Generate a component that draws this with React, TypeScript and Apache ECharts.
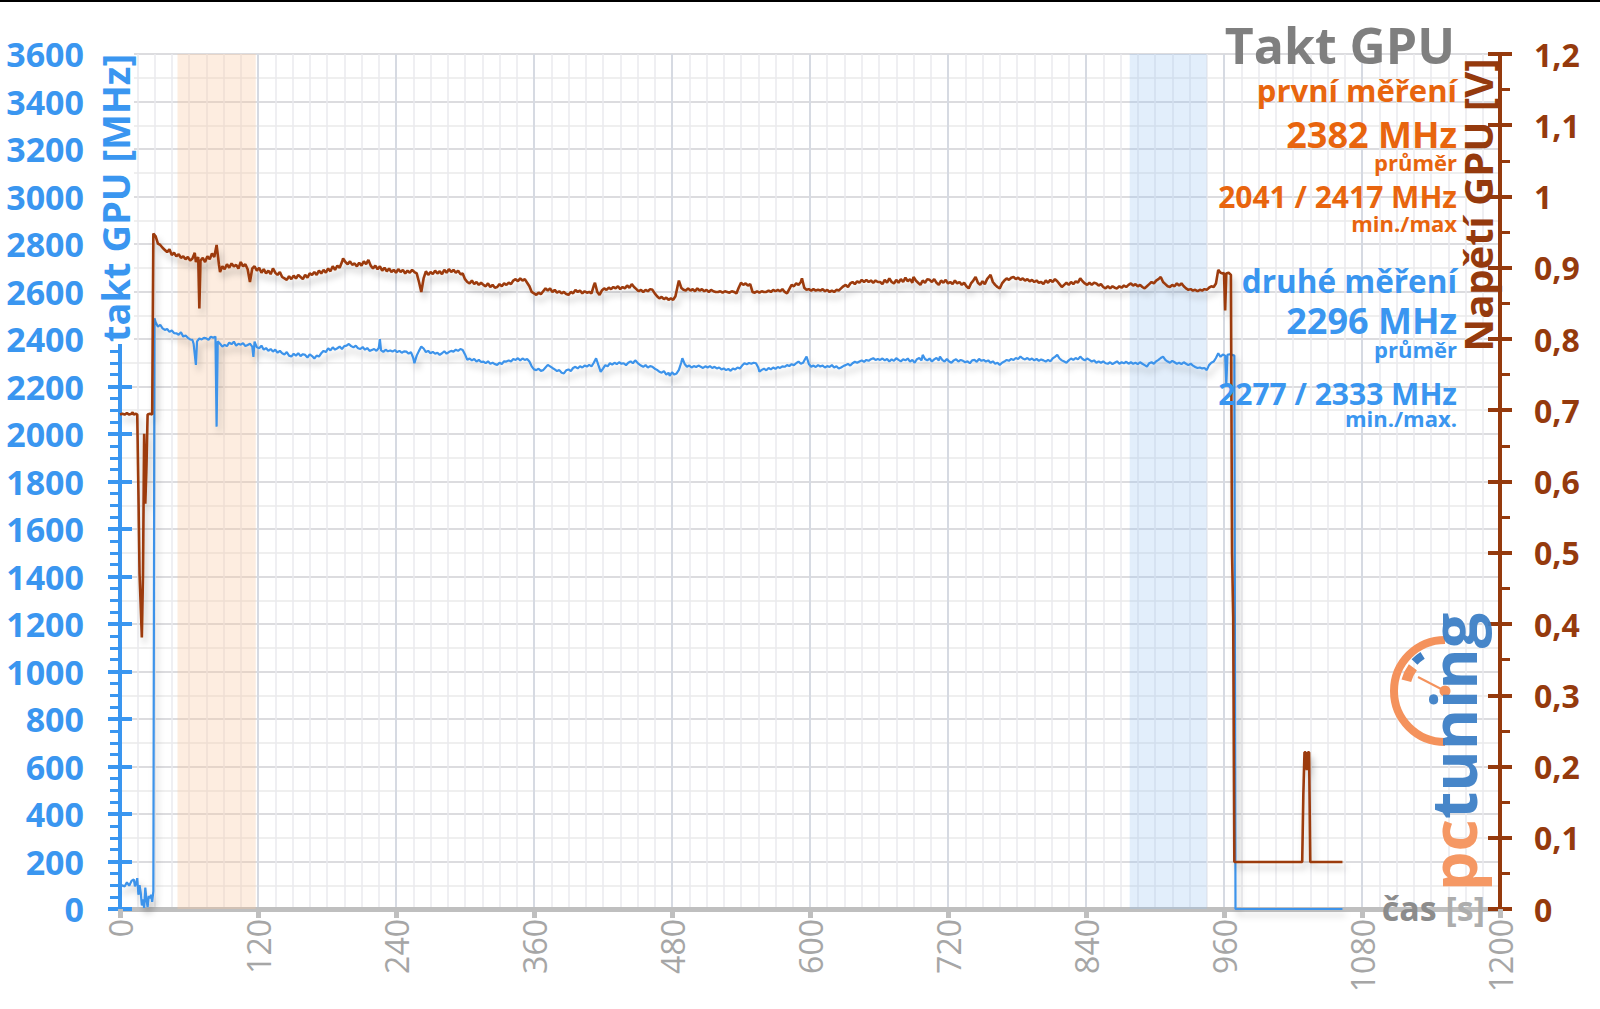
import React, { useEffect, useRef } from 'react';
import * as echarts from 'echarts';

// ---------- data ----------
// GPU clock of the second run [time s, MHz]
const clockMHz: [number, number][] = [
  [0, 88], [2, 100], [4, 95], [6, 112], [8, 98], [10, 118], [12, 125], [13, 95], [14, 108], [15, 130],
  [16, 60], [17, 100], [18, 70], [19, 15], [20, 40], [21, 5], [22, 90], [23, 40], [24, 8], [25, 55],
  [26, 45], [27, 60], [28, 30], [29, 75], [30, 2487], [31, 2470], [33, 2452], [35, 2460], [37, 2445], [39, 2438],
  [41, 2442], [43, 2430], [45, 2436], [47, 2425], [49, 2424], [51, 2418], [53, 2428], [55, 2410], [57, 2415], [59, 2405],
  [61, 2398], [63, 2396], [64, 2380], [66, 2291], [67, 2390], [69, 2402], [71, 2398], [73, 2405], [75, 2403], [77, 2396],
  [79, 2410], [81, 2405], [83, 2410], [84, 2031], [85, 2390], [87, 2380], [89, 2368], [91, 2375], [93, 2370], [95, 2385],
  [97, 2378], [99, 2389], [101, 2372], [103, 2380], [105, 2376], [107, 2383], [109, 2370], [111, 2375], [113, 2380], [115, 2368],
  [116, 2325], [117, 2389], [119, 2365], [121, 2361], [123, 2372], [125, 2355], [127, 2362], [129, 2350], [131, 2358], [133, 2347],
  [135, 2355], [137, 2342], [139, 2350], [141, 2340], [143, 2335], [145, 2345], [147, 2330], [149, 2326], [151, 2338], [153, 2330],
  [155, 2340], [157, 2328], [159, 2336], [161, 2333], [163, 2322], [165, 2335], [167, 2328], [169, 2318], [171, 2330], [173, 2326],
  [175, 2340], [177, 2350], [179, 2345], [181, 2361], [183, 2352], [185, 2365], [187, 2355], [189, 2361], [191, 2368], [193, 2358],
  [195, 2370], [197, 2372], [199, 2379], [201, 2370], [203, 2365], [205, 2372], [207, 2361], [209, 2358], [211, 2366], [213, 2355],
  [215, 2362], [217, 2350], [219, 2354], [221, 2358], [223, 2350], [225, 2362], [226, 2399], [227, 2352], [229, 2346], [231, 2355],
  [233, 2348], [235, 2352], [237, 2347], [239, 2353], [241, 2345], [243, 2350], [245, 2342], [247, 2348], [249, 2347], [251, 2338],
  [253, 2345], [255, 2320], [256, 2298], [258, 2330], [260, 2350], [262, 2368], [264, 2360], [266, 2345], [268, 2350], [270, 2340],
  [272, 2346], [274, 2338], [276, 2342], [278, 2333], [280, 2340], [282, 2348], [284, 2338], [286, 2345], [288, 2350], [290, 2347],
  [292, 2355], [294, 2350], [296, 2358], [298, 2354], [300, 2335], [302, 2312], [304, 2318], [306, 2310], [308, 2316], [310, 2305],
  [312, 2312], [314, 2303], [316, 2305], [318, 2298], [320, 2306], [322, 2296], [324, 2300], [326, 2294], [328, 2291], [330, 2300],
  [332, 2295], [334, 2306], [336, 2305], [338, 2310], [340, 2305], [342, 2316], [344, 2312], [346, 2319], [348, 2310], [350, 2318],
  [352, 2312], [354, 2316], [356, 2305], [358, 2285], [360, 2272], [362, 2269], [364, 2275], [366, 2266], [368, 2269], [370, 2280],
  [372, 2291], [374, 2285], [376, 2278], [378, 2272], [380, 2265], [382, 2269], [384, 2258], [386, 2255], [388, 2268], [390, 2272],
  [392, 2265], [394, 2278], [396, 2283], [398, 2276], [400, 2285], [402, 2280], [404, 2288], [406, 2284], [408, 2291], [410, 2285],
  [412, 2300], [414, 2319], [416, 2290], [418, 2262], [420, 2275], [422, 2290], [424, 2285], [426, 2298], [428, 2292], [430, 2300],
  [432, 2294], [434, 2302], [436, 2296], [438, 2298], [440, 2290], [442, 2300], [444, 2306], [446, 2298], [448, 2310], [449, 2305],
  [451, 2295], [453, 2288], [455, 2283], [457, 2290], [459, 2280], [461, 2286], [463, 2283], [465, 2275], [467, 2270], [469, 2262],
  [471, 2258], [473, 2265], [475, 2250], [477, 2258], [478, 2245], [480, 2260], [482, 2250], [484, 2255], [486, 2270], [488, 2300],
  [489, 2319], [491, 2295], [493, 2283], [495, 2288], [497, 2280], [499, 2286], [501, 2282], [503, 2288], [505, 2283], [507, 2278],
  [509, 2285], [511, 2280], [513, 2286], [515, 2278], [517, 2283], [519, 2276], [521, 2280], [523, 2272], [525, 2276], [527, 2269],
  [529, 2274], [531, 2266], [533, 2276], [535, 2272], [537, 2280], [539, 2276], [541, 2288], [543, 2298], [545, 2294], [547, 2299],
  [549, 2296], [551, 2300], [553, 2298], [555, 2280], [556, 2262], [558, 2270], [560, 2275], [562, 2268], [564, 2278], [566, 2272],
  [568, 2280], [570, 2274], [572, 2282], [574, 2278], [576, 2285], [578, 2283], [580, 2290], [582, 2286], [584, 2294], [586, 2290],
  [588, 2298], [590, 2305], [592, 2296], [594, 2300], [596, 2318], [597, 2326], [599, 2295], [601, 2283], [603, 2288], [605, 2282],
  [607, 2290], [609, 2284], [611, 2288], [613, 2280], [615, 2286], [617, 2282], [619, 2290], [621, 2280], [623, 2285], [625, 2276],
  [627, 2280], [629, 2286], [631, 2290], [633, 2295], [635, 2288], [637, 2298], [639, 2304], [641, 2300], [643, 2305], [645, 2310],
  [647, 2304], [649, 2312], [651, 2308], [653, 2315], [655, 2319], [657, 2312], [659, 2316], [661, 2312], [663, 2318], [665, 2310],
  [667, 2316], [669, 2305], [671, 2314], [673, 2308], [675, 2319], [677, 2312], [679, 2306], [681, 2315], [683, 2310], [685, 2318],
  [687, 2305], [689, 2312], [691, 2300], [693, 2315], [695, 2320], [697, 2310], [698, 2333], [700, 2316], [702, 2310], [704, 2318],
  [706, 2305], [708, 2314], [710, 2320], [712, 2310], [713, 2326], [715, 2312], [717, 2305], [719, 2316], [721, 2305], [723, 2300],
  [725, 2310], [727, 2315], [729, 2305], [731, 2312], [733, 2308], [735, 2302], [737, 2306], [739, 2298], [741, 2310], [743, 2312],
  [745, 2304], [747, 2316], [749, 2308], [751, 2312], [753, 2305], [755, 2310], [757, 2300], [759, 2306], [761, 2296], [763, 2300],
  [765, 2291], [767, 2300], [769, 2305], [771, 2312], [773, 2308], [775, 2316], [777, 2312], [779, 2320], [781, 2316], [783, 2326],
  [785, 2318], [787, 2314], [789, 2320], [791, 2312], [793, 2318], [795, 2310], [797, 2316], [799, 2308], [801, 2314], [803, 2310],
  [805, 2305], [807, 2312], [809, 2306], [811, 2318], [813, 2325], [815, 2333], [817, 2318], [819, 2310], [821, 2305], [823, 2300],
  [825, 2310], [827, 2318], [829, 2312], [831, 2320], [833, 2314], [835, 2326], [837, 2316], [839, 2310], [841, 2318], [843, 2312],
  [845, 2305], [847, 2310], [849, 2300], [851, 2306], [853, 2300], [855, 2306], [857, 2298], [859, 2296], [861, 2302], [863, 2294],
  [865, 2300], [867, 2306], [869, 2296], [871, 2302], [873, 2298], [875, 2304], [877, 2296], [879, 2302], [881, 2296], [883, 2300],
  [885, 2294], [887, 2302], [889, 2296], [891, 2290], [893, 2284], [895, 2298], [897, 2302], [899, 2296], [901, 2306], [903, 2312],
  [905, 2320], [907, 2326], [909, 2312], [911, 2305], [913, 2300], [915, 2308], [917, 2302], [919, 2296], [921, 2300], [923, 2294],
  [925, 2302], [927, 2296], [929, 2290], [931, 2296], [933, 2288], [935, 2282], [937, 2278], [939, 2280], [941, 2276], [943, 2278],
  [945, 2269], [947, 2290], [949, 2300], [951, 2305], [953, 2320], [955, 2340], [957, 2325], [959, 2335], [961, 2330], [962, 2204],
  [963, 2333], [965, 2336], [967, 2333], [969, 2330], [970, 0], [1063, 0],
];

// GPU voltage [time s, V]
const voltageV: [number, number][] = [
  [0, 0.694], [2, 0.695], [4, 0.694], [6, 0.696], [8, 0.694], [10, 0.695], [11, 0.697], [12, 0.694], [14, 0.695], [15, 0.694],
  [16, 0.587], [17, 0.47], [19, 0.381], [20, 0.47], [21, 0.667], [22, 0.569], [23, 0.62], [24, 0.694], [26, 0.695], [28, 0.694],
  [29, 0.948], [31, 0.944], [33, 0.934], [35, 0.932], [37, 0.928], [39, 0.925], [41, 0.922], [43, 0.926], [45, 0.918], [47, 0.921],
  [49, 0.916], [51, 0.919], [53, 0.914], [55, 0.916], [57, 0.912], [59, 0.915], [61, 0.91], [63, 0.913], [65, 0.921], [66, 0.908],
  [68, 0.915], [69, 0.843], [70, 0.91], [72, 0.914], [74, 0.908], [76, 0.916], [78, 0.912], [80, 0.92], [82, 0.915], [84, 0.932],
  [86, 0.905], [87, 0.894], [89, 0.902], [91, 0.898], [93, 0.905], [95, 0.9], [97, 0.906], [99, 0.902], [101, 0.904], [103, 0.899],
  [105, 0.908], [107, 0.902], [109, 0.905], [111, 0.898], [113, 0.88], [115, 0.899], [117, 0.902], [119, 0.896], [121, 0.9], [123, 0.893],
  [125, 0.898], [127, 0.892], [129, 0.896], [131, 0.891], [133, 0.899], [135, 0.893], [137, 0.89], [139, 0.894], [141, 0.887], [143, 0.885],
  [145, 0.883], [147, 0.888], [149, 0.884], [151, 0.889], [153, 0.885], [155, 0.89], [157, 0.887], [159, 0.884], [161, 0.89], [163, 0.886],
  [165, 0.892], [167, 0.89], [169, 0.894], [171, 0.89], [173, 0.896], [175, 0.892], [177, 0.897], [179, 0.893], [181, 0.899], [183, 0.895],
  [185, 0.902], [187, 0.897], [189, 0.903], [191, 0.9], [193, 0.908], [194, 0.913], [196, 0.908], [198, 0.905], [200, 0.909], [202, 0.904],
  [204, 0.906], [206, 0.902], [208, 0.907], [210, 0.903], [212, 0.909], [214, 0.905], [216, 0.911], [218, 0.903], [220, 0.899], [222, 0.903],
  [224, 0.898], [226, 0.902], [228, 0.896], [230, 0.9], [232, 0.895], [234, 0.899], [236, 0.894], [238, 0.897], [240, 0.893], [242, 0.898],
  [244, 0.894], [246, 0.897], [248, 0.892], [250, 0.896], [252, 0.893], [254, 0.897], [256, 0.894], [258, 0.892], [260, 0.88], [262, 0.866],
  [264, 0.885], [266, 0.895], [268, 0.89], [270, 0.894], [272, 0.891], [274, 0.896], [276, 0.892], [278, 0.895], [280, 0.891], [282, 0.897],
  [284, 0.893], [286, 0.898], [288, 0.894], [290, 0.897], [292, 0.893], [294, 0.896], [296, 0.891], [298, 0.892], [300, 0.884], [302, 0.88],
  [304, 0.878], [306, 0.882], [308, 0.877], [310, 0.88], [312, 0.876], [314, 0.879], [316, 0.876], [318, 0.874], [320, 0.878], [322, 0.873],
  [324, 0.876], [326, 0.872], [328, 0.873], [330, 0.877], [332, 0.874], [334, 0.878], [336, 0.876], [338, 0.879], [340, 0.877], [342, 0.882],
  [344, 0.884], [346, 0.881], [348, 0.885], [350, 0.882], [352, 0.884], [354, 0.879], [356, 0.874], [358, 0.866], [360, 0.864], [362, 0.862],
  [364, 0.865], [366, 0.863], [368, 0.867], [370, 0.871], [372, 0.868], [374, 0.871], [376, 0.866], [378, 0.869], [380, 0.865], [382, 0.867],
  [384, 0.864], [386, 0.866], [388, 0.863], [390, 0.862], [392, 0.866], [394, 0.864], [396, 0.869], [398, 0.866], [400, 0.868], [402, 0.864],
  [404, 0.867], [406, 0.865], [408, 0.866], [410, 0.864], [412, 0.875], [413, 0.879], [415, 0.866], [417, 0.862], [419, 0.868], [421, 0.871],
  [423, 0.869], [425, 0.872], [427, 0.87], [429, 0.873], [431, 0.871], [433, 0.874], [435, 0.87], [437, 0.873], [439, 0.871], [441, 0.875],
  [443, 0.872], [445, 0.877], [447, 0.873], [449, 0.87], [451, 0.867], [453, 0.869], [455, 0.866], [457, 0.869], [459, 0.867], [461, 0.87],
  [463, 0.869], [465, 0.864], [467, 0.86], [469, 0.857], [471, 0.859], [473, 0.856], [475, 0.858], [477, 0.855], [479, 0.857], [481, 0.855],
  [483, 0.86], [485, 0.875], [486, 0.882], [488, 0.872], [490, 0.869], [492, 0.868], [494, 0.871], [496, 0.868], [498, 0.87], [500, 0.867],
  [502, 0.871], [504, 0.868], [506, 0.87], [508, 0.867], [510, 0.869], [512, 0.866], [514, 0.869], [516, 0.867], [518, 0.866], [520, 0.866],
  [522, 0.867], [524, 0.865], [526, 0.867], [528, 0.866], [530, 0.865], [532, 0.867], [534, 0.866], [536, 0.864], [538, 0.872], [540, 0.879],
  [542, 0.876], [544, 0.878], [546, 0.875], [548, 0.877], [550, 0.866], [552, 0.865], [554, 0.867], [556, 0.865], [558, 0.867], [560, 0.866],
  [562, 0.866], [564, 0.868], [566, 0.866], [568, 0.869], [570, 0.867], [572, 0.869], [574, 0.867], [576, 0.87], [578, 0.866], [580, 0.864],
  [582, 0.87], [584, 0.876], [586, 0.874], [588, 0.878], [590, 0.876], [592, 0.88], [593, 0.885], [595, 0.872], [597, 0.869], [599, 0.87],
  [601, 0.868], [603, 0.87], [605, 0.868], [607, 0.869], [609, 0.868], [611, 0.87], [613, 0.867], [615, 0.869], [617, 0.866], [619, 0.868],
  [621, 0.866], [623, 0.869], [625, 0.868], [627, 0.871], [629, 0.874], [631, 0.876], [633, 0.873], [635, 0.878], [637, 0.88], [639, 0.877],
  [641, 0.881], [643, 0.879], [645, 0.883], [647, 0.88], [649, 0.883], [651, 0.88], [653, 0.882], [655, 0.879], [657, 0.882], [659, 0.88],
  [661, 0.88], [663, 0.877], [665, 0.883], [667, 0.879], [669, 0.885], [671, 0.88], [673, 0.878], [675, 0.883], [677, 0.879], [679, 0.884],
  [681, 0.88], [683, 0.886], [685, 0.881], [687, 0.884], [689, 0.879], [690, 0.887], [692, 0.882], [694, 0.879], [696, 0.876], [698, 0.882],
  [700, 0.879], [702, 0.884], [704, 0.883], [706, 0.88], [708, 0.884], [710, 0.879], [712, 0.876], [714, 0.882], [716, 0.879], [718, 0.883],
  [720, 0.878], [722, 0.88], [724, 0.877], [726, 0.882], [728, 0.878], [730, 0.88], [732, 0.876], [734, 0.879], [736, 0.874], [738, 0.871],
  [740, 0.878], [742, 0.882], [744, 0.887], [746, 0.879], [748, 0.876], [750, 0.881], [752, 0.877], [754, 0.884], [756, 0.888], [757, 0.89],
  [759, 0.88], [761, 0.876], [763, 0.873], [765, 0.871], [767, 0.878], [769, 0.882], [771, 0.885], [773, 0.883], [775, 0.886], [777, 0.887],
  [779, 0.884], [781, 0.886], [783, 0.883], [785, 0.885], [787, 0.882], [789, 0.884], [791, 0.881], [793, 0.883], [795, 0.88], [797, 0.882],
  [799, 0.879], [801, 0.88], [803, 0.877], [805, 0.882], [807, 0.879], [809, 0.883], [811, 0.88], [813, 0.884], [815, 0.881], [817, 0.877],
  [819, 0.873], [821, 0.876], [823, 0.879], [825, 0.876], [827, 0.88], [829, 0.877], [831, 0.881], [833, 0.879], [835, 0.885], [837, 0.881],
  [839, 0.878], [841, 0.876], [843, 0.879], [845, 0.876], [847, 0.879], [849, 0.878], [851, 0.875], [853, 0.877], [855, 0.873], [857, 0.871],
  [859, 0.874], [861, 0.871], [863, 0.874], [865, 0.872], [867, 0.871], [869, 0.874], [871, 0.872], [873, 0.875], [875, 0.873], [877, 0.876],
  [879, 0.878], [881, 0.875], [883, 0.877], [885, 0.874], [887, 0.876], [889, 0.873], [891, 0.871], [893, 0.874], [895, 0.877], [897, 0.88],
  [899, 0.878], [901, 0.882], [903, 0.884], [905, 0.887], [907, 0.88], [909, 0.877], [911, 0.874], [913, 0.873], [915, 0.876], [917, 0.874],
  [919, 0.878], [921, 0.875], [923, 0.878], [925, 0.874], [927, 0.871], [929, 0.869], [931, 0.87], [933, 0.868], [935, 0.869], [937, 0.867],
  [939, 0.869], [941, 0.868], [943, 0.87], [945, 0.869], [947, 0.872], [949, 0.874], [951, 0.873], [953, 0.878], [955, 0.897], [957, 0.893],
  [959, 0.892], [960, 0.893], [961, 0.84], [962, 0.892], [964, 0.893], [966, 0.89], [967, 0.5], [968, 0.41], [969, 0.066], [1028, 0.066],
  [1029, 0.161], [1030, 0.22], [1031, 0.22], [1032, 0.195], [1033, 0.22], [1034, 0.22], [1035, 0.066], [1063, 0.066],
];

// highlighted time windows [from s, to s]
const warmBand: [number, number] = [50, 118];
const coolBand: [number, number] = [878, 945];

const titleText = 'Takt GPU';
const firstRunTexts = ['první měření', '2382 MHz', 'průměr', '2041 / 2417 MHz', 'min./max'];
const secondRunTexts = ['druhé měření', '2296 MHz', 'průměr', '2277 / 2333 MHz', 'min./max.'];
const leftAxisName = 'takt GPU [MHz]';
const rightAxisName = 'Napětí GPU [V]';
const xAxisName = ['čas', '[s]'];
const logoParts = ['pc', 'tuning'];

// ---------- styles ----------
const FONT = "'Open Sans', 'Noto Sans', sans-serif";
const BLUE = '#3A96F0';
const BLUE_LINE = '#3C93EA';
const BROWN = '#953A0D';
const BROWN_LINE = '#9C3A0C';
const ORANGE = '#E8650E';
const GRAY = '#7F7F7F';
const AXIS_GRAY = '#BFBFBF';

function txt(text: string, x: number, y: number, size: number, color: string, align = 'right', rotation = 0, extra: any = {}) {
  return {
    type: 'text',
    x,
    y,
    rotation,
    z: 100,
    zlevel: 0,
    style: {
      text,
      fill: color,
      fontSize: size,
      fontWeight: 'bold',
      fontFamily: FONT,
      align,
      verticalAlign: 'middle',
      textAlign: align,
      textVerticalAlign: 'middle',
      ...extra,
    },
  };
}

export default function App() {
  const ref = useRef<HTMLDivElement>(null);

  useEffect(() => {
    if (!ref.current) return;
    const chart = echarts.init(ref.current, undefined, { renderer: 'svg' });

    const legendX = 1457;
    const firstLayout = [
      { y: 90, size: 31 },
      { y: 134, size: 36 },
      { y: 162, size: 22 },
      { y: 196, size: 30 },
      { y: 223, size: 22 },
    ];
    const secondLayout = [
      { y: 280, size: 31.5 },
      { y: 320, size: 36 },
      { y: 349, size: 22 },
      { y: 393, size: 30 },
      { y: 418, size: 22 },
    ];

    const cx = 1445;
    const cy = 691;

    const graphics: any[] = [
      { type: 'rect', z: 100, shape: { x: 0, y: 0, width: 1600, height: 2 }, style: { fill: '#000' } },
      txt(titleText, 1455, 45, 50, GRAY),
      ...firstRunTexts.map((t, i) => txt(t, legendX, firstLayout[i].y, firstLayout[i].size, ORANGE)),
      ...secondRunTexts.map((t, i) => txt(t, legendX, secondLayout[i].y, secondLayout[i].size, BLUE)),
      txt(leftAxisName, 115, 198, 38, BLUE, 'center', Math.PI / 2, { backgroundColor: '#ffffff', padding: [0, 2, 0, 2] }),
      txt(rightAxisName, 1477, 205, 40, BROWN, 'center', Math.PI / 2),
      {
        type: 'text',
        x: 1485,
        y: 908,
        z: 100,
        style: {
          text: `{a|${xAxisName[0]}} {b|${xAxisName[1]}}`,
          align: 'right',
          verticalAlign: 'middle',
          textAlign: 'right',
          textVerticalAlign: 'middle',
          fontFamily: FONT,
          fontSize: 34,
          fontWeight: 'bold',
          fill: '#8C8C8C',
          rich: {
            a: { fontFamily: FONT, fontSize: 34, fontWeight: 'bold', fill: '#8C8C8C', color: '#8C8C8C' },
            b: { fontFamily: FONT, fontSize: 34, fontWeight: 'bold', fill: '#ADADAD', color: '#ADADAD' },
          },
        },
      },
      // logo
      {
        type: 'group',
        z: 50,
        children: [
          { type: 'arc', z: 50, shape: { cx, cy, r: 51, startAngle: Math.PI / 2, endAngle: Math.PI * 1.5, clockwise: true }, style: { stroke: '#F4925C', lineWidth: 8, fill: 'none' } },
          { type: 'arc', z: 50, shape: { cx, cy, r: 40, startAngle: 3.4, endAngle: 3.78, clockwise: true }, style: { stroke: '#F4925C', lineWidth: 10, fill: 'none' } },
          { type: 'arc', z: 50, shape: { cx, cy, r: 42, startAngle: 3.9, endAngle: 4.15, clockwise: true }, style: { stroke: '#3F7FC4', lineWidth: 8, fill: 'none' } },
          { type: 'line', z: 50, shape: { x1: cx, y1: cy, x2: 1418, y2: 677 }, style: { stroke: '#F4925C', lineWidth: 2 } },
          { type: 'circle', z: 50, shape: { cx, cy, r: 5.5 }, style: { fill: '#F4925C' } },
          {
            type: 'text',
            x: 1452,
            y: 752,
            rotation: Math.PI / 2,
            z: 51,
            style: {
              text: `{a|${logoParts[0]}}{b|${logoParts[1]}}`,
              align: 'center',
              verticalAlign: 'middle',
              textAlign: 'center',
              textVerticalAlign: 'middle',
              fontFamily: FONT,
              fontSize: 63,
              fontWeight: 'bold',
              opacity: 0.95,
              rich: {
                a: { fontFamily: FONT, fontSize: 63, fontWeight: 'bold', fill: '#F4925C', color: '#F4925C' },
                b: { fontFamily: FONT, fontSize: 63, fontWeight: 'bold', fill: '#3D7FC6', color: '#3D7FC6' },
              },
            },
          },
        ],
      },
    ];

    const shadow = { shadowColor: 'rgba(0,0,0,0.2)', shadowBlur: 6, shadowOffsetX: 3, shadowOffsetY: 6 };

    chart.setOption({
      animation: false,
      backgroundColor: '#ffffff',
      textStyle: { fontFamily: FONT },
      grid: { left: 120, right: 100, top: 54, bottom: 100, containLabel: false },
      xAxis: {
        type: 'value',
        min: 0,
        max: 1200,
        interval: 120,
        axisLine: { show: true, onZero: false, lineStyle: { color: AXIS_GRAY, width: 5 } },
        axisTick: { show: true, length: 9, lineStyle: { color: AXIS_GRAY, width: 5 } },
        axisLabel: { rotate: 90, color: '#A6A6A6', fontSize: 32, margin: 10, fontFamily: FONT, formatter: (v: number) => String(v) },
        splitLine: { show: true, lineStyle: { color: '#D6DAE2', width: 2 } },
        minorTick: { show: false, splitNumber: 8 },
        minorSplitLine: { show: true, lineStyle: { color: '#EAEAEE', width: 1.5 } },
      },
      yAxis: [
        {
          type: 'value',
          position: 'left',
          min: 0,
          max: 3600,
          interval: 200,
          axisLine: { show: true, lineStyle: { color: BLUE, width: 4 } },
          axisTick: { show: true, inside: false, length: 12, lineStyle: { color: BLUE, width: 4 } },
          minorTick: { show: true, splitNumber: 4, length: 10, lineStyle: { color: BLUE, width: 3 } },
          axisLabel: { color: BLUE, fontSize: 34, fontWeight: 'bold', margin: 36, fontFamily: FONT, formatter: (v: number) => String(v) },
          splitLine: { show: true, lineStyle: { color: '#DCDCDF', width: 2 } },
        },
        {
          type: 'value',
          position: 'right',
          min: 0,
          max: 1.2,
          interval: 0.1,
          axisLine: { show: true, lineStyle: { color: BROWN, width: 4 } },
          axisTick: { show: true, inside: false, length: 12, lineStyle: { color: BROWN, width: 4 } },
          minorTick: { show: true, splitNumber: 2, length: 10, lineStyle: { color: BROWN, width: 3 } },
          axisLabel: {
            color: BROWN,
            fontSize: 32,
            fontWeight: 'bold',
            margin: 34,
            fontFamily: FONT,
            formatter: (v: number) => String(Math.round(v * 10) / 10).replace('.', ','),
          },
          splitLine: { show: false },
        },
        {
          type: 'value',
          position: 'left',
          min: 0,
          max: 3600,
          interval: 200,
          axisLine: { show: false },
          axisTick: { show: false },
          axisLabel: { show: false },
          splitLine: { show: false },
          minorTick: { show: false, splitNumber: 2 },
          minorSplitLine: { show: true, lineStyle: { color: '#EAEAEA', width: 1.5 } },
        },
        {
          type: 'value',
          position: 'left',
          min: 0,
          max: 3600,
          interval: 200,
          axisLine: { show: false },
          axisTick: { show: true, inside: true, length: 12, lineStyle: { color: BLUE, width: 4 } },
          axisLabel: { show: false },
          splitLine: { show: false },
        },
        {
          type: 'value',
          position: 'right',
          min: 0,
          max: 1.2,
          interval: 0.1,
          axisLine: { show: false },
          axisTick: { show: true, inside: true, length: 12, lineStyle: { color: BROWN, width: 4 } },
          axisLabel: { show: false },
          splitLine: { show: false },
        },
      ],
      series: [
        {
          type: 'line',
          name: 'bands',
          data: [],
          z: 1,
          silent: true,
          markArea: {
            silent: true,
            data: [
              [{ xAxis: warmBand[0], itemStyle: { color: 'rgba(250,200,160,0.32)' } }, { xAxis: warmBand[1] }],
              [{ xAxis: coolBand[0], itemStyle: { color: 'rgba(150,195,240,0.28)' } }, { xAxis: coolBand[1] }],
            ],
          },
        },
        {
          type: 'line',
          name: 'takt GPU',
          yAxisIndex: 0,
          data: clockMHz,
          showSymbol: false,
          symbol: 'none',
          clip: false,
          z: 3,
          lineStyle: { color: BLUE_LINE, width: 2.2, ...shadow },
        },
        {
          type: 'line',
          name: 'Napětí GPU',
          yAxisIndex: 1,
          data: voltageV,
          showSymbol: false,
          symbol: 'none',
          clip: false,
          z: 4,
          lineStyle: { color: BROWN_LINE, width: 2.6, ...shadow },
        },
      ],
      graphic: graphics,
    });

    return () => chart.dispose();
  }, []);

  return (
    <div
      ref={ref}
      style={{ position: 'fixed', left: 0, top: 0, width: 1600, height: 1009, background: '#fff' }}
    />
  );
}
